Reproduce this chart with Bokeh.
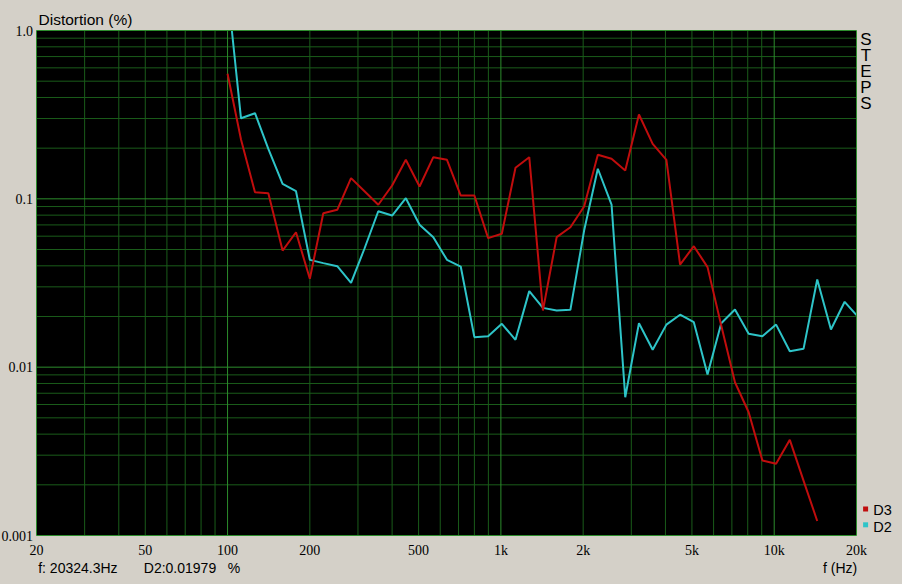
import math
from bokeh.plotting import figure
from bokeh.models import Range1d, Label, LabelSet, ColumnDataSource, BoxAnnotation
from bokeh.embed import file_html
from bokeh.resources import INLINE

# ---------------- data ----------------
freq_hz = [100, 112, 126, 141, 159, 178, 200, 224, 252, 283, 317, 356, 400, 449,
           504, 566, 635, 713, 800, 898, 1008, 1131, 1270, 1425, 1600, 1796, 2016,
           2263, 2540, 2851, 3200, 3592, 4032, 4525, 5080, 5702, 6400, 7184, 8063,
           9051, 10159, 11404, 12800, 14368, 16127, 18102, 20319]

d3_pct = [0.553, 0.225, 0.1095, 0.108, 0.0493, 0.0633, 0.0335, 0.0821, 0.0861,
          0.1327, 0.111, 0.0922, 0.12, 0.1706, 0.1184, 0.1768, 0.1706, 0.1046,
          0.1046, 0.0584, 0.062, 0.1529, 0.1768, 0.0217, 0.0592, 0.0678, 0.09,
          0.1826, 0.1729, 0.1474, 0.317, 0.212, 0.1706, 0.0407, 0.0523, 0.0393,
          0.0177, 0.00814, 0.0054, 0.00279, 0.00267, 0.0037, 0.00212, 0.00122]

d2_pct = [1.76, 0.301, 0.3227, 0.198, 0.1228, 0.111, 0.0434, 0.0415, 0.0398,
          0.0317, 0.0507, 0.0844, 0.0796, 0.1009, 0.0701, 0.0592, 0.0434, 0.0396,
          0.01507, 0.01528, 0.0181, 0.01454, 0.0283, 0.0225, 0.0217, 0.0219,
          0.0648, 0.1509, 0.0925, 0.00663, 0.01825, 0.01268, 0.0179, 0.0205,
          0.0185, 0.00904, 0.01825, 0.022, 0.0158, 0.01528, 0.0179, 0.01244,
          0.01285, 0.0332, 0.01674, 0.02445, 0.01979]

x_ticks = [20, 50, 100, 200, 500, 1000, 2000, 5000, 10000, 20000]
x_tick_labels = ["20", "50", "100", "200", "500", "1k", "2k", "5k", "10k", "20k"]
y_ticks = [0.001, 0.01, 0.1, 1.0]
y_tick_labels = ["0.001", "0.01", "0.1", "1.0"]
series_names = ["D3", "D2"]
readout_text = ["f: 20324.3Hz", "D2:0.01979\u00a0\u00a0\u00a0%"]
side_letters = ["S", "T", "E", "P", "S"]

X_MIN, X_MAX = 20, 20000
Y_MIN, Y_MAX = 0.001, 1.0

# ---------------- layout / style ----------------
W, H = 902, 584
A_L, A_R, A_T, A_B = 36, 856, 30, 535      # plot area in canvas pixels
BG = "#d4d0c8"
FONT = "Liberation Sans"
RED = "#c00d0d"
CYAN = "#2ec4c8"
GRID_MAJOR = "#2c8c2c"
GRID_MINOR = "#1a5c1a"

# ranges chosen so the data box [X_MIN..X_MAX]x[Y_MIN..Y_MAX] lands on the plot area
dx = (math.log10(X_MAX) - math.log10(X_MIN)) / (A_R - A_L)
dy = (math.log10(Y_MAX) - math.log10(Y_MIN)) / (A_B - A_T)
x_lo = 10 ** (math.log10(X_MIN) - A_L * dx)
x_hi = 10 ** (math.log10(X_MAX) + (W - A_R) * dx)
y_lo = 10 ** (math.log10(Y_MIN) - (H - A_B) * dy)
y_hi = 10 ** (math.log10(Y_MAX) + A_T * dy)


def clip_polyline(xs, ys):
    """Clip a polyline to the data box (in log space), like the analyser's window."""
    lx = [math.log10(v) for v in xs]
    ly = [math.log10(v) for v in ys]
    bx0, bx1 = math.log10(X_MIN), math.log10(X_MAX)
    by0, by1 = math.log10(Y_MIN), math.log10(Y_MAX)
    pieces, cur = [], []
    for i in range(len(lx) - 1):
        x0, y0, x1, y1 = lx[i], ly[i], lx[i + 1], ly[i + 1]
        ddx, ddy = x1 - x0, y1 - y0
        t0, t1, ok = 0.0, 1.0, True
        for pp, qq in ((-ddx, x0 - bx0), (ddx, bx1 - x0),
                       (-ddy, y0 - by0), (ddy, by1 - y0)):
            if pp == 0:
                if qq < 0:
                    ok = False
                    break
            else:
                r = qq / pp
                if pp < 0:
                    t0 = max(t0, r)
                else:
                    t1 = min(t1, r)
        if not ok or t0 > t1:
            if cur:
                pieces.append(cur)
                cur = []
            continue
        a = (x0 + t0 * ddx, y0 + t0 * ddy)
        b = (x0 + t1 * ddx, y0 + t1 * ddy)
        if not cur:
            cur = [a]
        cur.append(b)
        if t1 < 1:
            pieces.append(cur)
            cur = []
    if cur:
        pieces.append(cur)
    return [([10 ** q[0] for q in pc], [10 ** q[1] for q in pc]) for pc in pieces]


p = figure(width=W, height=H, x_axis_type="log", y_axis_type="log",
           x_range=Range1d(x_lo, x_hi), y_range=Range1d(y_lo, y_hi),
           x_axis_location=None, y_axis_location=None, tools="",
           output_backend="svg", toolbar_location=None, title=None,
           min_border=0, min_border_left=0, min_border_right=0,
           min_border_top=0, min_border_bottom=0,
           background_fill_color=BG, border_fill_color=BG)
p.outline_line_color = None
for g in p.grid:
    g.visible = False

# black plot area
p.quad(left=[X_MIN], right=[X_MAX], bottom=[Y_MIN], top=[Y_MAX],
       fill_color="black", line_color=None)

# grid lines: decades brighter, 2..9 multiples darker
x_grid_major = [100, 1000, 10000]
x_grid_minor = [m * 10 ** e for e in range(1, 4) for m in range(2, 10)
                if X_MIN < m * 10 ** e < X_MAX]
y_grid_major = [0.01, 0.1]
y_grid_minor = [m * 10.0 ** e for e in range(-3, 0) for m in range(2, 10)]
p.segment(x0=x_grid_minor, y0=[Y_MIN] * len(x_grid_minor),
          x1=x_grid_minor, y1=[Y_MAX] * len(x_grid_minor),
          line_color=GRID_MINOR, line_width=1)
p.segment(x0=[X_MIN] * len(y_grid_minor), y0=y_grid_minor,
          x1=[X_MAX] * len(y_grid_minor), y1=y_grid_minor,
          line_color=GRID_MINOR, line_width=1)
p.segment(x0=[X_MIN] * len(y_grid_major), y0=y_grid_major,
          x1=[X_MAX] * len(y_grid_major), y1=y_grid_major,
          line_color=GRID_MAJOR, line_width=1)
p.segment(x0=x_grid_major, y0=[Y_MIN] * len(x_grid_major),
          x1=x_grid_major, y1=[Y_MAX] * len(x_grid_major),
          line_color=GRID_MAJOR, line_width=1)

# data lines (clipped to the plot window)
for xs_c, ys_c in clip_polyline(freq_hz, d2_pct):
    p.line(xs_c, ys_c, line_color=CYAN, line_width=2)
for xs_c, ys_c in clip_polyline(freq_hz[:len(d3_pct)], d3_pct):
    p.line(xs_c, ys_c, line_color=RED, line_width=2)

# masks outside the plot area
p.quad(left=[x_lo / 10, x_lo / 10, x_lo / 10, X_MAX],
       right=[x_hi * 10, x_hi * 10, X_MIN, x_hi * 10],
       bottom=[Y_MAX, y_lo / 10, y_lo / 10, y_lo / 10],
       top=[y_hi * 10, Y_MIN, y_hi * 10, y_hi * 10],
       fill_color=BG, line_color=None)
# plot area border
p.quad(left=[X_MIN], right=[X_MAX], bottom=[Y_MIN], top=[Y_MAX],
       fill_color=None, line_color=GRID_MAJOR, line_width=1)

# tick labels
xsrc = ColumnDataSource(dict(x=x_ticks, text=x_tick_labels))
p.add_layout(LabelSet(source=xsrc, x="x", y=H - 554, y_units="screen", text="text",
                      text_align="center", text_baseline="alphabetic",
                      text_font=FONT, text_font_size="14px", text_color="black"))
ysrc = ColumnDataSource(dict(y=y_ticks, text=y_tick_labels))
p.add_layout(LabelSet(source=ysrc, x=32.5, x_units="screen", y="y", text="text",
                      text_align="right", text_baseline="middle",
                      text_font=FONT, text_font_size="14px", text_color="black"))


def text_at(txt, x_img, yc_img, size="14px", align="left", color="black"):
    """Place a text with its vertical middle at image row yc_img."""
    p.add_layout(Label(x=x_img, y=H - yc_img, x_units="screen", y_units="screen",
                       text=txt, text_font=FONT, text_font_size=size,
                       text_align=align, text_baseline="middle", text_color=color))


text_at("Distortion (%)", 38, 18.8, size="15.5px")
text_at(readout_text[0], 37.7, 567.2)
text_at(readout_text[1], 143.3, 567.2)
text_at("f (Hz)", 856.7, 567.2, align="right")

# legend (coloured squares + names)
for name, col, sq_top, yc in ((series_names[0], RED, 506, 509.2),
                              (series_names[1], CYAN, 521.8, 526.2)):
    p.add_layout(BoxAnnotation(left=862.6, right=867.6, top=H - sq_top,
                               bottom=H - sq_top - 5,
                               left_units="screen", right_units="screen",
                               top_units="screen", bottom_units="screen",
                               fill_color=col, fill_alpha=1.0, line_color=None))
    text_at(name, 872.7, yc, size="14.5px")

# "STEPS" written vertically
for i, ch in enumerate(side_letters):
    text_at(ch, 865.5, 38.9 + i * 16.1, size="17px", align="center")

html = file_html(p, INLINE, title="Distortion")
html = html.replace("<head>", "<head><style>html,body{background:#d4d0c8;}</style>", 1)
open("out.html", "w").write(html)
